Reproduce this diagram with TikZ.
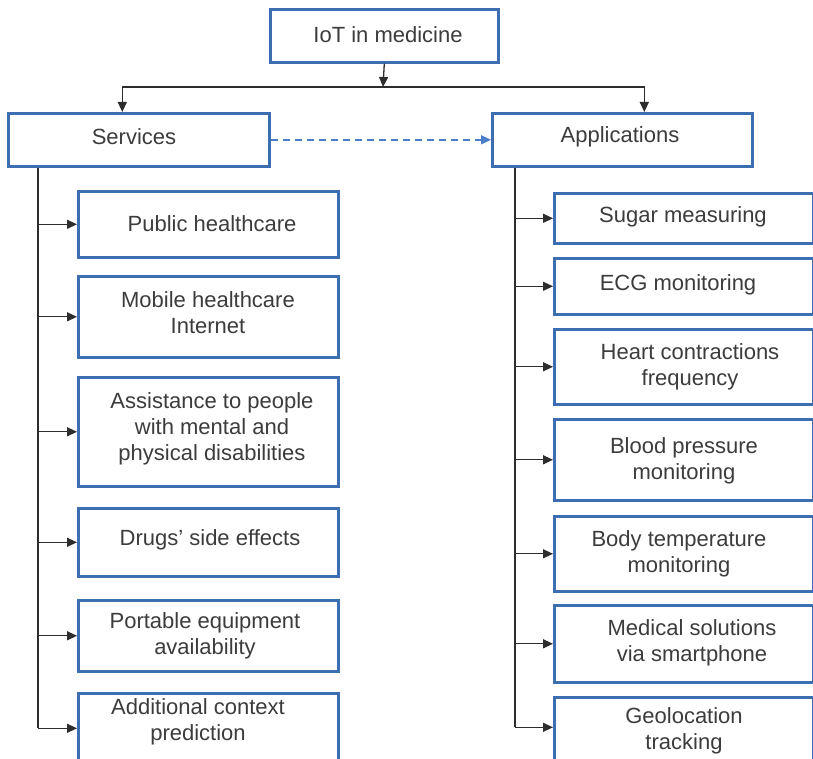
\documentclass[tikz,border=0pt]{standalone}
\usepackage{fontspec}
\setmainfont{Liberation Sans}
\usetikzlibrary{arrows.meta}
\definecolor{boxblue}{RGB}{62,110,178}
\definecolor{linegray}{RGB}{45,45,45}
\definecolor{txtgray}{RGB}{60,60,60}
\definecolor{dashblue}{RGB}{74,126,200}

\begin{document}
\begin{tikzpicture}[x=1pt,y=-1pt,
  box/.style={draw=boxblue, line width=2.6pt, fill=white, inner sep=0pt, anchor=north west},
  lbl/.style={text=txtgray, font=\fontsize{22}{26}\selectfont, align=center, inner sep=0pt},
  conn/.style={draw=linegray, line width=1.3pt},
  arr/.style={conn, -{Triangle[length=10pt,width=9pt]}},
  dasharrow/.style={draw=dashblue, line width=1.5pt, dash pattern=on 7pt off 5pt, -{Triangle[length=10pt,width=9pt]}}
]
\useasboundingbox (0,0) rectangle (813,759);
\fill[white] (0,0) rectangle (813,759);
\clip (0,0) rectangle (813,759);

% top level
\node[box, minimum width=228pt, minimum height=53pt] (top) at (269,8) {};
\node[box, minimum width=261pt, minimum height=53pt] (serv) at (7,112) {};
\node[box, minimum width=260pt, minimum height=53pt] (app) at (491,112) {};

% services column
\node[box, minimum width=260pt, minimum height=66pt] (pub) at (77,190) {};
\node[box, minimum width=260pt, minimum height=81pt] (mob) at (77,275) {};
\node[box, minimum width=260pt, minimum height=109pt] (ast) at (77,376) {};
\node[box, minimum width=260pt, minimum height=68pt] (drg) at (77,507) {};
\node[box, minimum width=260pt, minimum height=71pt] (por) at (77,599) {};
\node[box, minimum width=260pt, minimum height=70pt] (add) at (77,692) {};

% applications column
\node[box, minimum width=259pt, minimum height=50pt] (sug) at (553,192) {};
\node[box, minimum width=259pt, minimum height=56pt] (ecg) at (553,257) {};
\node[box, minimum width=259pt, minimum height=75pt] (hrt) at (553,328) {};
\node[box, minimum width=259pt, minimum height=81pt] (bld) at (553,418) {};
\node[box, minimum width=259pt, minimum height=75pt] (bdy) at (553,515) {};
\node[box, minimum width=259pt, minimum height=77pt] (med) at (553,604) {};
\node[box, minimum width=259pt, minimum height=76pt] (geo) at (553,696) {};

% labels
\node[lbl] (t-top) at (388,35) {IoT in medicine};
\node[lbl] (t-serv) at (134,137) {Services};
\node[lbl] (t-app) at (620,137) {Applications};
\node[lbl] (t-pub) at (212,224) {Public healthcare};
\node[lbl] (t-mob) at (208,313) {Mobile healthcare\\Internet};
\node[lbl] (t-ast) at (212,429) {Assistance to people\\with mental and\\physical disabilities};
\node[lbl] (t-drg) at (210,540) {Drugs’ side effects};
\node[lbl] (t-por) at (205,636) {Portable equipment\\availability};
\node[lbl] (t-add) at (198,722) {Additional context\\prediction};
\node[lbl] (t-sug) at (683,217) {Sugar measuring};
\node[lbl] (t-ecg) at (678,285) {ECG monitoring};
\node[lbl] (t-hrt) at (690,367) {Heart contractions\\frequency};
\node[lbl] (t-bld) at (684,461) {Blood pressure\\monitoring};
\node[lbl] (t-bdy) at (679,554) {Body temperature\\monitoring};
\node[lbl] (t-med) at (692,643) {Medical solutions\\via smartphone};
\node[lbl] (t-geo) at (684,731) {Geolocation\\tracking};

% hub and trunks
\coordinate (hub) at (383,87);
\coordinate (lt) at (38,0);
\coordinate (rt) at (515,0);

\draw[arr] (top.south) -- (hub);
\draw[arr] (hub) -| ([xshift=-16.5pt]serv.north);
\draw[arr] (hub) -| ([xshift=22pt]app.north);
\draw[dasharrow] (serv.east) -- (app.west);

% services branches
\draw[conn] (serv.south -| lt) -- (add.west -| lt);
\foreach \n in {pub,mob,ast,drg,por,add}
  \draw[arr] (\n.west -| lt) -- (\n.west);

% applications branches
\draw[conn] (app.south -| rt) -- ([yshift=8pt]geo.west -| rt);
\foreach \n in {sug,ecg,hrt,bld,bdy,med}
  \draw[arr] (\n.west -| rt) -- (\n.west);
\draw[arr] ([yshift=8pt]geo.west -| rt) -- ([yshift=8pt]geo.west);
\end{tikzpicture}
\end{document}
